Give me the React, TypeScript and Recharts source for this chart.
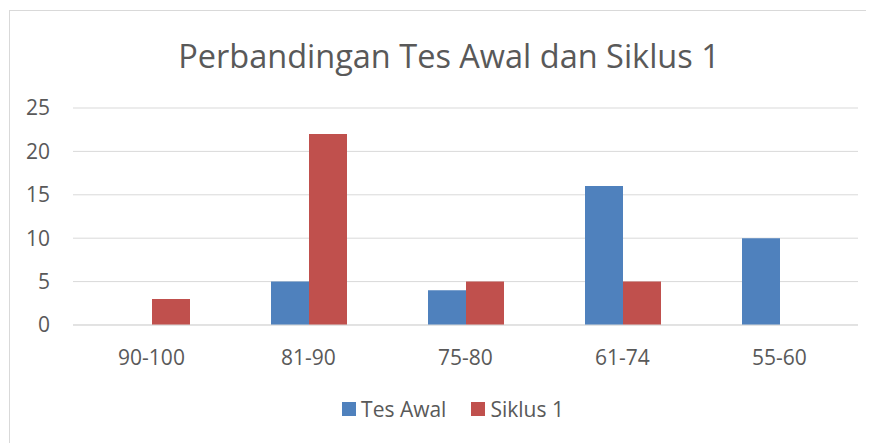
import { BarChart, Bar, XAxis, YAxis, CartesianGrid, Legend } from "recharts";

const categories = ["90-100", "81-90", "75-80", "61-74", "55-60"];
const tesAwal = [0, 5, 4, 16, 10];
const siklus1 = [3, 22, 5, 5, 0];
const yTicks = [0, 5, 10, 15, 20, 25];

const FONT = "'Open Sans', sans-serif";
const TEXT = "#595959";

const rows = categories.map((c, i) => ({
  range: c,
  "Tes Awal": tesAwal[i],
  "Siklus 1": siklus1[i],
}));

const legendItems = [
  { name: "Tes Awal", color: "#4f81bd" },
  { name: "Siklus 1", color: "#c0504d" },
];

function LegendBox() {
  return (
    <div style={{ display: "flex", justifyContent: "center", gap: 25, paddingLeft: 40, fontFamily: FONT, fontSize: 21, color: TEXT }}>
      {legendItems.map(it => (
        <div key={it.name} style={{ display: "flex", alignItems: "center", gap: 5 }}>
          <span style={{ width: 14, height: 14, background: it.color, display: "inline-block" }} />
          <span>{it.name}</span>
        </div>
      ))}
    </div>
  );
}

export default function App() {
  return (
    <div style={{ position: "relative", width: 866, height: 435, overflow: "hidden", background: "#fff" }}>
      <div style={{ position: "absolute", left: 1, top: 2, width: 1000, height: 1000, border: "1px solid #d9d9d9" }} />
      <div style={{
        position: "absolute", left: 0, width: 866, top: 25, paddingLeft: 16, boxSizing: "border-box", textAlign: "center",
        fontFamily: FONT, fontSize: 32.5, color: TEXT,
      }}>
        Perbandingan Tes Awal dan Siklus 1
      </div>
      <div style={{ position: "absolute", left: 0, top: 0 }}>
        <BarChart
          width={866} height={435} data={rows}
          margin={{ top: 100, right: 16, left: 0, bottom: 20 }}
          barCategoryGap={41} barGap={0}
        >
          <CartesianGrid stroke="#d9d9d9" vertical={false} />
          <XAxis
            dataKey="range" axisLine={{ stroke: "#d9d9d9" }} tickLine={false}
            tickSize={0} tickMargin={25} height={70}
            tick={{ fill: TEXT, fontSize: 21, fontFamily: FONT }}
          />
          <YAxis
            ticks={yTicks} domain={[0, 25]} width={65}
            axisLine={false} tickLine={false} tickSize={0} tickMargin={23}
            tick={{ fill: TEXT, fontSize: 21, fontFamily: FONT }}
          />
          <Legend verticalAlign="bottom" content={() => <LegendBox />} />
          <Bar dataKey="Tes Awal" fill="#4f81bd" isAnimationActive={false} />
          <Bar dataKey="Siklus 1" fill="#c0504d" isAnimationActive={false} />
        </BarChart>
      </div>
    </div>
  );
}
